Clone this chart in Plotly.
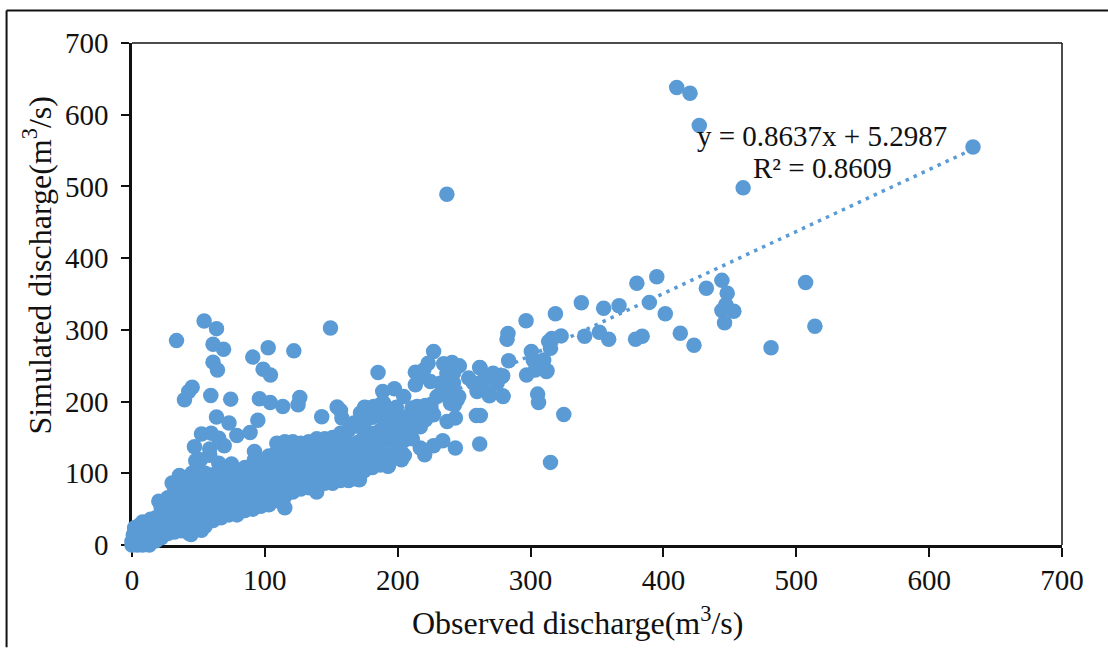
import plotly.graph_objects as go

BLUE = "#5B9BD5"
INK = "#111111"
FONT = "Liberation Serif"

# Outlying points read one at a time
outlier_x = [410,420,427,633,460,237,507,514,481,423,412.7,401.4,395,380,389.4,384,379,366.6,355,351.8,340.7,338.2,358.8,432.3,
             444,448,447,444,453,446,318.7,296.6,283,282.3,283.5,297,300.6,302,304.9,309.9,312.4,305.3,306,325,315,313.6,316,323,315,303.6,
             33.5,54.3,63.6,61,68.9,61,64.3,90.9,102.5,121.8,149.4,98.7,104.2,45.3,42.7,39.5,59.3,74.3,95.9,104,113.5,126.3,125,142.8,154.4,156.9,158,
             63.6,73,94.7,88.9,78.9,52.3,59.6,65.3,69.4,47,58.5,58.5,48,51.5,92.2,92.2,65.3,74.9,35.7,45.3,
             185.2,227,222.9,234.6,240.9,246.4,213.3,261.7,213.3,224.6,237.2,253.4,271.8,279,259.7,269.2,279.3,188.7,197.5,204.5,229.6,242.7,245.9,176.2,210.8,220.8,227,259.2,262.2,237.2,243.4,220.8,261.7,243.4,233.9,227,220.3,217,208.3,210.8,202.8,192.5,187,171.2,163.6,170.7,177,197,203.3,
             262,271.8,278.5,269,279,311.9]
outlier_y = [638,630,585,555,498,489,366,305,275,278.6,295.3,322.6,374,365,338.3,291,287,333.7,330,296.7,291,337.9,287,357.9,
             369,351,335,327,326,310,322.6,312.8,295,287,257,237,269.7,258,253.5,258,243,210.4,198.7,182,115.2,283.6,288,291.6,274.4,244,
             285,312.4,301.7,280,273,255,244,262,275,270.7,302.7,245,237,220,214,202.5,208.5,203.4,203.9,198.7,193,205.7,195.5,178.8,192.3,187.6,177,
             178.4,170,174,157,152.8,154.7,156,149,138.5,137,134,125,117.6,119,130.5,119,114,113,97,100.5,
             240.5,269.7,253.5,252.6,254.4,249.8,241,247.4,223.4,228,230,232.7,239.6,235.9,214,209.4,207,214,217.8,207,207,195.5,207,191.8,190.9,194.5,181.6,180.6,180.6,172.3,177,174.6,140.8,135.2,145.4,138.5,125.9,135.2,149,160.7,119,109.7,112,91,91,102.7,119,128,128,
             247,237,235,208,208,241.9]

# Upper lobe of the band, between 160 and 280 on the observed axis
lobe_x = [215.8,219.6,232,237,242,242,237,232,244.7,239.7,257,264.7,264.7,274.8,272.3,217,224.6,214.6,207,209.6,204.6,199.5,194.5,187,189.5,182,172,194.5,189.5,167,182,182,172,162]
lobe_y = [235,244,225.7,216,226,239.6,239.6,209.4,202.5,197.8,225.7,230,216.4,225.7,235,184,186,193,179,165.4,146.8,128,179,188.6,197.8,193,184,160.7,146.8,170,147,128,128,123.6]

# Tight cluster at the origin
origin_x = [0,0,1,1,2,5,8,14,12,16,4,8,13,4,8,10,16]
origin_y = [0,5,6,14,21,27,32,36,32,34,0,0,0,22,26,30,30]

# Dense band, read column by column
band_x = [2,2,2,2,6,6,6,6,10,10,10,10,14,14,14,14,18,18,18,18,22,22,22,22,22,
          27,27,27,27,27,32,32,32,32,32,32,37,37,37,37,37,37,43,43,43,43,43,43,
          49,49,49,49,49,49,55,55,55,55,55,55,61,61,61,61,61,67,67,67,67,67,
          73,73,73,73,73,79,79,79,79,79,85,85,85,85,85,91,91,91,91,91,
          97,97,97,97,97,103,103,103,103,103,109,109,109,109,109,109,
          115,115,115,115,115,115,115,121,121,121,121,121,121,127,127,127,127,127,
          133,133,133,133,133,139,139,139,139,139,139,145,145,145,145,145,
          151,151,151,151,151,157,157,157,157,157,163,163,163,163,163,
          169,169,169,169,169,175,175,175,175,175,175,181,181,181,181,181,
          187,187,187,187,187,187,193,193,193,193,193,199,199,199,199,199,
          205,205,205,205,211,211,211,217,217,217,225,225,20.2,30.2,44.5,52.3]
band_y = [3,10,18,24,2,10,18,26,4,12,20,28,4,12,22,30,6,16,28,38,10,20,32,44,52,
          16,24,38,52,66,18,28,42,56,70,80,20,30,46,60,76,90,16,32,48,64,80,96,
          22,36,52,68,84,100,26,42,58,74,90,100,34,50,66,82,98,38,54,70,86,100,
          42,58,74,90,102,42,60,76,92,104,48,62,80,96,108,50,66,84,100,112,
          54,70,88,104,118,56,74,92,108,124,62,78,96,112,130,142,
          52,68,84,100,118,134,144,74,90,106,122,138,144,78,94,110,126,142,
          80,96,112,128,144,74,92,108,124,140,148,86,100,116,132,148,
          86,104,120,136,150,90,106,122,138,156,90,108,124,140,160,
          92,110,126,142,166,104,120,136,152,172,192,108,124,140,156,178,
          112,128,144,160,180,196,110,126,146,164,186,122,140,158,176,192,
          125,146,160,178,148,162,185,165,180,192,190,196,61,86.5,14.6,20.6]

trend_x = [0, 633]
trend_y = [5.3, 552]

x_ticks = [0,100,200,300,400,500,600,700]
y_ticks = [0,100,200,300,400,500,600,700]
x_title = "Observed discharge(m<sup>3</sup>/s)"
y_title = "Simulated discharge(m<sup>3</sup>/s)"
eq_line = "y = 0.8637x + 5.2987"
r2_line = "R² = 0.8609"

# Plot rectangle in page pixels
W, H = 1108, 648
L, R, T, B = 131.5, 1062, 42.5, 545.5
px = lambda v: (v - L) / (R - L)
py = lambda v: (B - v) / (B - T)

fig = go.Figure()
fig.add_trace(go.Scatter(x=trend_x, y=trend_y, mode="lines", hoverinfo="skip",
                         line=dict(color=BLUE, width=3.5, dash="3.5px,5.3px")))
fig.add_trace(go.Scatter(x=band_x + lobe_x + origin_x + outlier_x, y=band_y + lobe_y + origin_y + outlier_y,
                         mode="markers", cliponaxis=False,
                         marker=dict(color=BLUE, size=15.5, line=dict(width=0))))

axis = dict(range=[0, 700], showgrid=False, zeroline=False, ticks="outside", tickwidth=1.5,
            tickcolor=INK, tickfont=dict(family=FONT, size=29, color=INK), layer="below traces",
            linecolor=INK, showline=True, mirror=False, fixedrange=True)
fig.update_xaxes(**axis, tickvals=x_ticks, ticklen=9, linewidth=2.5, ticklabelstandoff=-2)
fig.update_yaxes(**axis, tickvals=y_ticks, ticklen=8, linewidth=2.5, ticklabelstandoff=7)

line = dict(color=INK, width=1.5)
def label(text, x, y, size, **kw):
    return dict(text=text, xref="paper", yref="paper", x=px(x), y=py(y), showarrow=False,
                xanchor="center", yanchor="middle", font=dict(family=FONT, size=size, color=INK), **kw)

fig.update_layout(
    width=W, height=H, showlegend=False, plot_bgcolor="white", paper_bgcolor="white",
    margin=dict(l=L, r=W - R, t=T, b=H - B, autoexpand=False),
    shapes=[
        dict(type="line", xref="paper", yref="paper", x0=0, x1=1, y0=1, y1=1, line=line),
        dict(type="line", xref="paper", yref="paper", x0=1, x1=1, y0=0, y1=1, line=line),
        dict(type="line", xref="paper", yref="paper", x0=px(6), x1=px(W), y0=py(10), y1=py(10), line=dict(color=INK, width=2)),
        dict(type="line", xref="paper", yref="paper", x0=px(6), x1=px(6), y0=py(10), y1=py(H), line=dict(color=INK, width=2)),
    ],
    annotations=[
        label(x_title, 577, 622, 32),
        label(y_title, 37, 265, 32, textangle=-90),
        label(eq_line, 822, 136, 29),
        label(r2_line, 822, 168, 29),
    ],
)
fig.write_html("out.html", config=dict(displayModeBar=False),
               post_script="document.body.style.margin='0';document.body.style.overflow='hidden';")
